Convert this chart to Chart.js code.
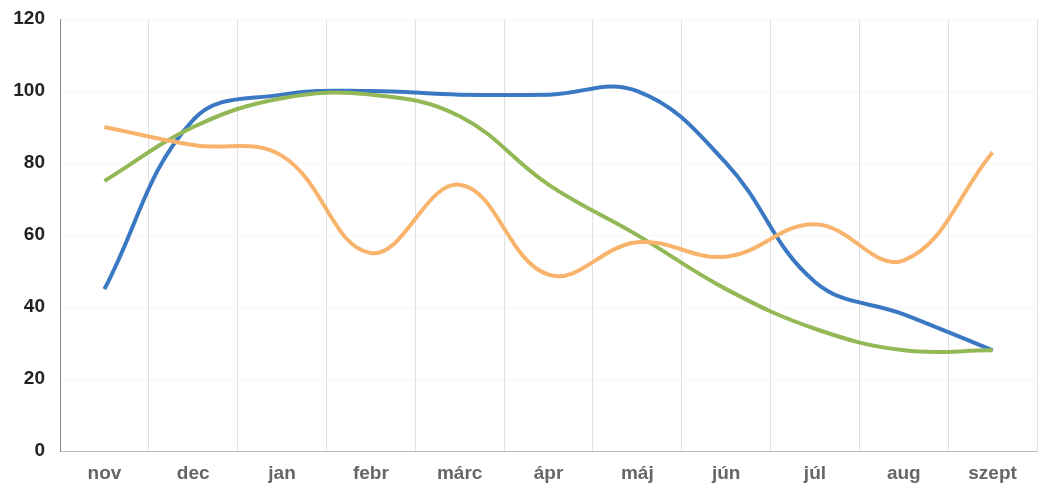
<!DOCTYPE html>
<html>
<head>
<meta charset="utf-8">
<script src="https://cdn.jsdelivr.net/npm/chart.js@4/dist/chart.umd.min.js"></script>
<style>
  html, body { margin: 0; padding: 0; background: #fff; }
  #wrap { width: 1044px; height: 502px; position: relative; }
</style>
</head>
<body>
<div id="wrap"><canvas id="chart"></canvas></div>
<script>
const months = ["nov", "dec", "jan", "febr", "márc", "ápr", "máj", "jún", "júl", "aug", "szept"];
const blueValues = [45, 92, 99, 100, 99, 99, 100, 80, 47, 38, 28];
const greenValues = [75, 90, 98, 99, 93, 74, 60, 45, 34, 28, 28];
const orangeValues = [90, 85, 82, 55, 74, 49, 58, 54, 63, 53, 83];
const yTicks = [0, 20, 40, 60, 80, 100, 120];

function series(data, color) {
    return {
        data: data,
        borderColor: color,
        backgroundColor: color,
        borderWidth: 4,
        pointRadius: 0,
        tension: 0.4
    };
}

const ctx = document.getElementById("chart").getContext("2d");
new Chart(ctx, {
    type: 'line',
    data: {
        labels: months,
        datasets: [
            series(orangeValues, '#f8b46c'),
            series(greenValues, '#92b955'),
            series(blueValues, '#3b78c4')
        ]
    },
    options: {
        responsive: true,
        maintainAspectRatio: false,
        animation: false,
        layout: { padding: { top: 19, right: 7, bottom: 6, left: 0 } },
        plugins: { legend: { display: false }, tooltip: { enabled: false } },
        scales: {
            x: {
                offset: true,
                grid: { offset: true, color: '#e0e0e0', drawTicks: false },
                border: { color: '#bbbbbb' },
                ticks: {
                    color: '#666666',
                    padding: 11,
                    font: { family: 'Liberation Sans', size: 19, weight: 'bold' }
                }
            },
            y: {
                min: 0,
                max: 120,
                afterBuildTicks: axis => { axis.ticks = yTicks.map(v => ({ value: v })); },
                afterFit: axis => {
                    axis.width = 60;
                    axis.paddingTop = 0;
                    axis.paddingBottom = 0;
                },
                grid: { color: '#f0f0f0', drawTicks: false },
                border: { color: '#888888', dash: [2, 2] },
                ticks: {
                    color: '#222222',
                    padding: 15,
                    font: { family: 'Liberation Sans', size: 19, weight: 'bold' }
                }
            }
        }
    }
});
</script>
</body>
</html>
